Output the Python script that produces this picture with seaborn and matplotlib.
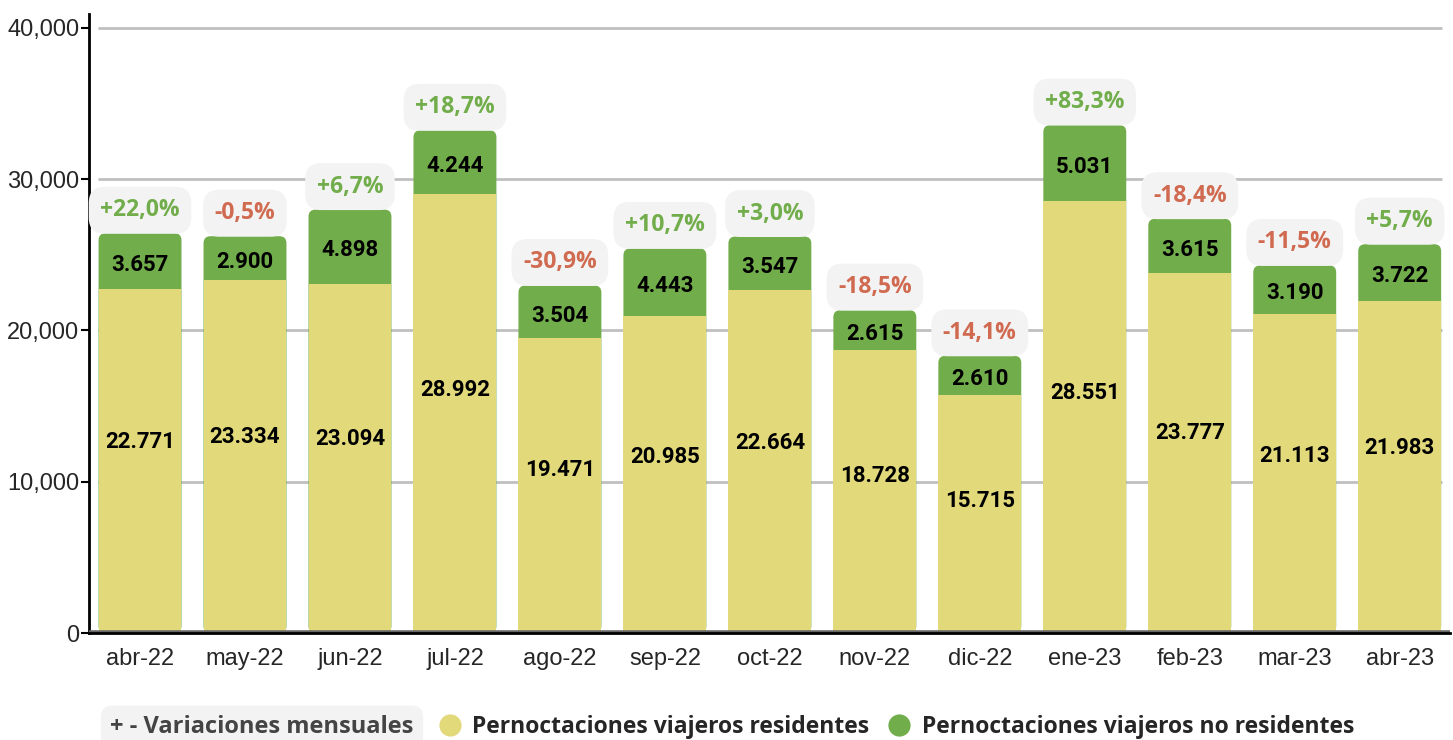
import pandas as pd
import seaborn as sns
import matplotlib.pyplot as plt
from matplotlib.patches import FancyBboxPatch
from matplotlib.lines import Line2D

months = ["abr-22", "may-22", "jun-22", "jul-22", "ago-22", "sep-22", "oct-22",
          "nov-22", "dic-22", "ene-23", "feb-23", "mar-23", "abr-23"]
residentes = [22771, 23334, 23094, 28992, 19471, 20985, 22664,
              18728, 15715, 28551, 23777, 21113, 21983]
no_residentes = [3657, 2900, 4898, 4244, 3504, 4443, 3547,
                 2615, 2610, 5031, 3615, 3190, 3722]
variacion = [22.0, -0.5, 6.7, 18.7, -30.9, 10.7, 3.0,
             -18.5, -14.1, 83.3, -18.4, -11.5, 5.7]

YELLOW = "#e1d97a"
GREEN = "#72ad4b"
RED = "#d06a50"

df = pd.DataFrame({"mes": months, "res": residentes, "nores": no_residentes})
df["total"] = df["res"] + df["nores"]

sns.set_theme(style="white")
plt.rcParams["font.family"] = ["Liberation Sans", "DejaVu Sans"]

fig = plt.figure(figsize=(14.53, 7.40), dpi=100)
ax = fig.add_axes([89 / 1453, 1 - 633 / 740, 1 - 89 / 1453 - 0.002, (633 - 14) / 740])

# gridlines behind bars
for v in [10000, 20000, 30000, 40000]:
    ax.hlines(v, -0.4, 12.4, color="#c0c0c0", lw=2, zorder=0)

sns.barplot(data=df, x="mes", y="total", color=GREEN, width=0.79,
            saturation=1, linewidth=0, ax=ax, zorder=2)
n_green = len(ax.patches)
sns.barplot(data=df, x="mes", y="res", color=YELLOW, width=0.79,
            saturation=1, linewidth=0, ax=ax, zorder=3)

ax.set_xlim(-0.486, 12.48)
ax.set_ylim(0, 40925)

# round the top corners of the stacked bars
px_x = 1 / 105.0
px_y = 40925 / 619.0
for p in list(ax.patches[:n_green]):
    x0, y0 = p.get_x(), p.get_y()
    w, h = p.get_width(), p.get_height()
    r = 7 * px_x
    fb = FancyBboxPatch((x0 + r, y0 + r * px_y / px_x), w - 2 * r, h - 2 * r * px_y / px_x,
                        boxstyle=f"round,pad={r},rounding_size={r}",
                        mutation_aspect=px_y / px_x,
                        fc=GREEN, ec="none", lw=0, zorder=2)
    p.remove()
    ax.add_patch(fb)

ax.axhline(0, color="#666666", lw=4, zorder=4)

def fmt(v):
    return f"{v:,}".replace(",", ".")

for i, (r_, n_, pct) in enumerate(zip(residentes, no_residentes, variacion)):
    tot = r_ + n_
    ax.text(i, r_ * 0.555, fmt(r_), ha="center", va="center", fontsize=16,
            fontweight="bold", family="Roboto", color="black", zorder=5)
    ax.text(i, r_ + n_ / 2 - 250, fmt(n_), ha="center", va="center", fontsize=16,
            fontweight="bold", family="Roboto", color="black", zorder=5)
    label = (f"+{pct:.1f}%" if pct > 0 else f"{pct:.1f}%").replace(".", ",")
    ax.annotate(label, xy=(i, tot), xytext=(0, 23), textcoords="offset pixels",
                ha="center", va="center", fontsize=16.5, fontweight="bold",
                family="Open Sans", color=GREEN if pct > 0 else RED,
                bbox=dict(boxstyle="round,pad=0.5,rounding_size=0.7",
                          fc="#f3f3f3", ec="none"), zorder=5)

ax.set_xlabel("")
ax.set_ylabel("")
ax.set_yticks([0, 10000, 20000, 30000, 40000])
ax.set_yticklabels(["0", "10,000", "20,000", "30,000", "40,000"])
ax.tick_params(axis="y", length=6, width=1.5, color="black", labelsize=17, pad=1, left=True)
ax.tick_params(axis="x", length=0, labelsize=17, pad=11)
for s in ["top", "right"]:
    ax.spines[s].set_visible(False)
ax.spines["left"].set_color("black")
ax.spines["left"].set_linewidth(2)
ax.spines["bottom"].set_color("black")
ax.spines["bottom"].set_linewidth(2)
ax.spines["bottom"].set_zorder(6)

# legend row
fig.text(262 / 1453, 1 - 727 / 740, "+ - Variaciones mensuales", ha="center", va="center",
         fontsize=17, fontweight="bold", family="Open Sans", color="#444444",
         bbox=dict(boxstyle="round,pad=0.4,rounding_size=0.5", fc="#f3f3f3", ec="none"))
handles = [Line2D([], [], marker="o", ls="none", ms=16, mfc=YELLOW, mec="none"),
           Line2D([], [], marker="o", ls="none", ms=16, mfc=GREEN, mec="none")]
fig.legend(handles, ["Pernoctaciones viajeros residentes", "Pernoctaciones viajeros no residentes"],
           loc="center left", bbox_to_anchor=(406 / 1453, 1 - 727 / 740), ncol=2,
           frameon=False, handletextpad=0.0, columnspacing=0.3,
           prop={"family": "Open Sans", "weight": "bold", "size": 16.5})

fig.savefig("out.png", dpi=100)
